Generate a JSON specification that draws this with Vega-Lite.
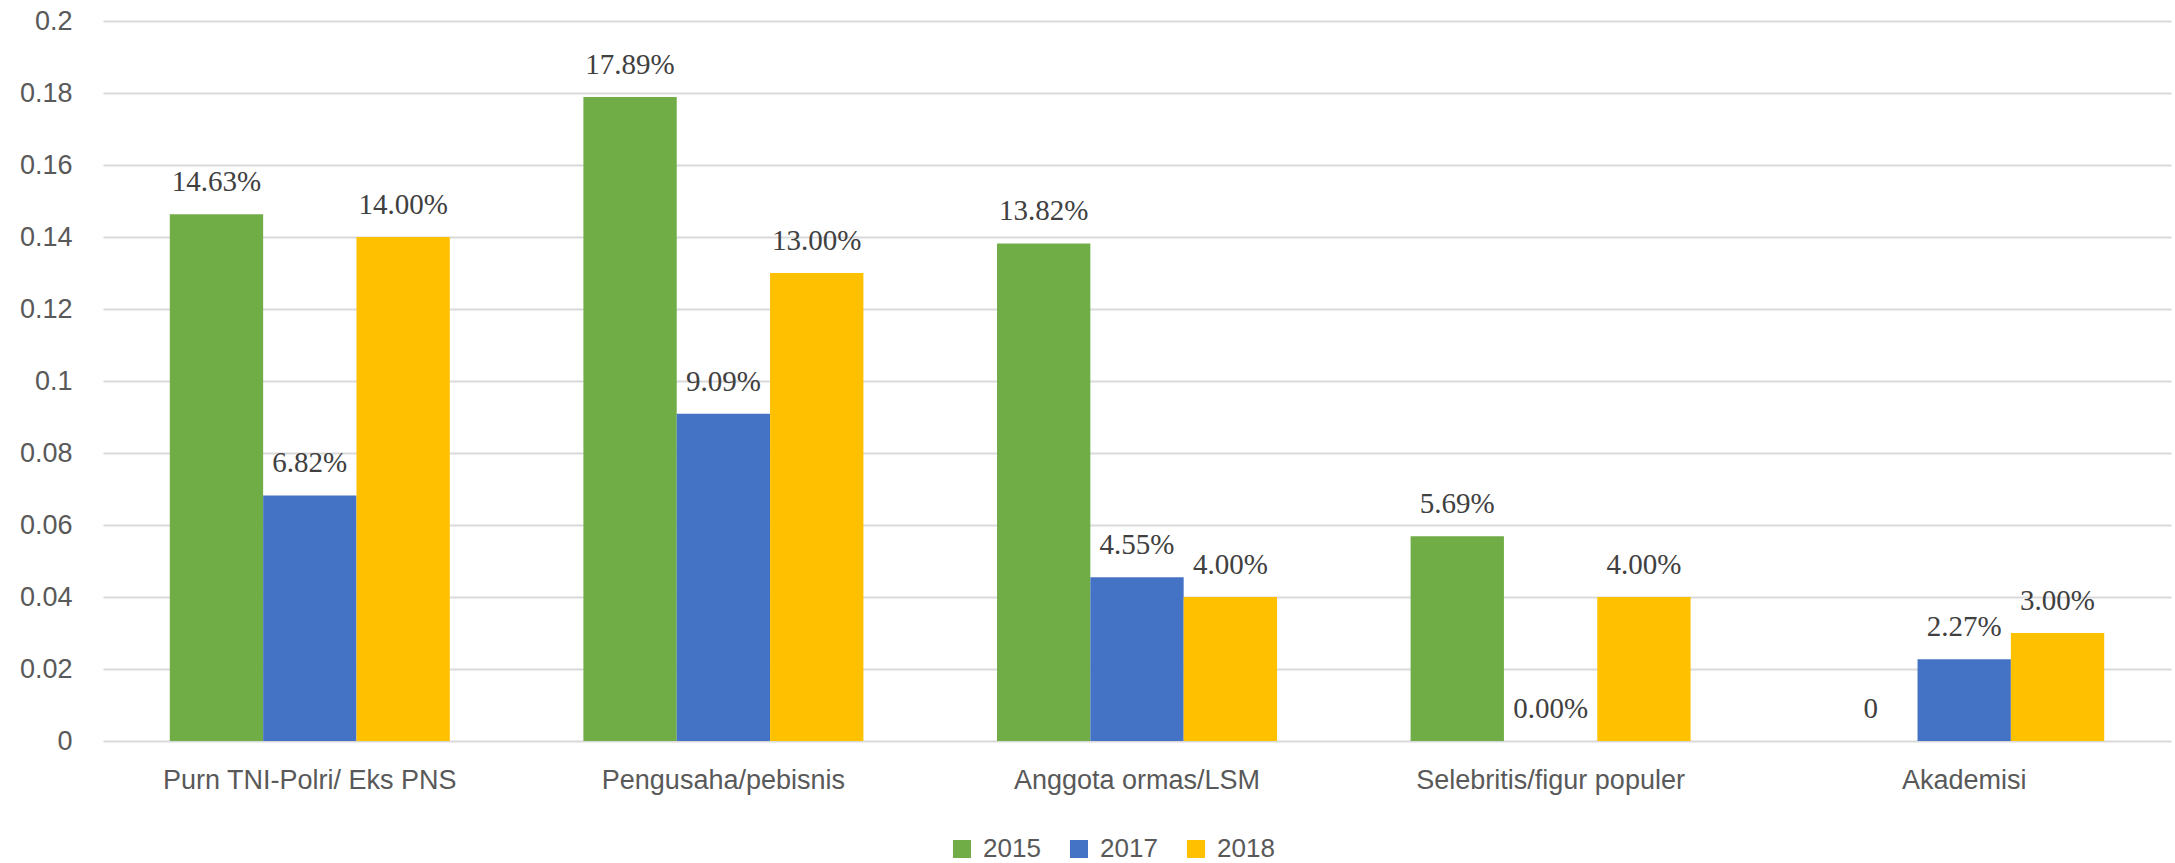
{
  "$schema": "https://vega.github.io/schema/vega-lite/v6.json",
  "width": 2068,
  "height": 720,
  "autosize": {"type": "none"},
  "padding": {"left": 103, "top": 21, "right": 4, "bottom": 122},
  "background": "white",
  "config": {
    "view": {"stroke": null},
    "axis": {"labelFont": "Liberation Sans", "labelColor": "#595959", "labelFontSize": 27},
    "legend": {"labelFont": "Liberation Sans", "labelColor": "#595959", "labelFontSize": 26}
  },
  "data": {
    "values": [
      {"category": "Purn TNI-Polri/ Eks PNS", "year": "2015", "value": 0.1463, "label": "14.63%"},
      {"category": "Purn TNI-Polri/ Eks PNS", "year": "2017", "value": 0.0682, "label": "6.82%"},
      {"category": "Purn TNI-Polri/ Eks PNS", "year": "2018", "value": 0.14, "label": "14.00%"},
      {"category": "Pengusaha/pebisnis", "year": "2015", "value": 0.1789, "label": "17.89%"},
      {"category": "Pengusaha/pebisnis", "year": "2017", "value": 0.0909, "label": "9.09%"},
      {"category": "Pengusaha/pebisnis", "year": "2018", "value": 0.13, "label": "13.00%"},
      {"category": "Anggota ormas/LSM", "year": "2015", "value": 0.1382, "label": "13.82%"},
      {"category": "Anggota ormas/LSM", "year": "2017", "value": 0.0455, "label": "4.55%"},
      {"category": "Anggota ormas/LSM", "year": "2018", "value": 0.04, "label": "4.00%"},
      {"category": "Selebritis/figur populer", "year": "2015", "value": 0.0569, "label": "5.69%"},
      {"category": "Selebritis/figur populer", "year": "2017", "value": 0, "label": "0.00%"},
      {"category": "Selebritis/figur populer", "year": "2018", "value": 0.04, "label": "4.00%"},
      {"category": "Akademisi", "year": "2015", "value": 0, "label": "0"},
      {"category": "Akademisi", "year": "2017", "value": 0.0227, "label": "2.27%"},
      {"category": "Akademisi", "year": "2018", "value": 0.03, "label": "3.00%"}
    ]
  },
  "encoding": {
    "x": {
      "field": "category",
      "type": "nominal",
      "sort": ["Purn TNI-Polri/ Eks PNS", "Pengusaha/pebisnis", "Anggota ormas/LSM", "Selebritis/figur populer", "Akademisi"],
      "scale": {"paddingInner": 0.323, "paddingOuter": 0.1615},
      "axis": {"title": null, "labelAngle": 0, "domain": false, "ticks": false, "labelPadding": 26, "labelLimit": 0}
    },
    "xOffset": {"field": "year", "type": "nominal", "scale": {"paddingInner": 0, "paddingOuter": 0}},
    "y": {
      "field": "value",
      "type": "quantitative",
      "scale": {"domain": [0, 0.2], "nice": false},
      "axis": {
        "title": null,
        "values": [0, 0.02, 0.04, 0.06, 0.08, 0.1, 0.12, 0.14, 0.16, 0.18, 0.2],
        "format": "~g",
        "domain": false,
        "ticks": false,
        "labelPadding": 31,
        "gridColor": "#D9D9D9",
        "gridWidth": 2
      }
    }
  },
  "layer": [
    {
      "mark": {"type": "bar"},
      "encoding": {
        "color": {
          "field": "year",
          "type": "nominal",
          "scale": {"domain": ["2015", "2017", "2018"], "range": ["#70AD47", "#4472C4", "#FFC000"]},
          "legend": {
            "title": null,
            "orient": "none",
            "legendX": 846,
            "legendY": 815,
            "direction": "horizontal",
            "symbolType": "square",
            "symbolSize": 324,
            "symbolStrokeWidth": 0,
            "labelOffset": 8,
            "columnPadding": 25,
            "padding": 0
          }
        }
      }
    },
    {
      "mark": {"type": "text", "font": "Liberation Serif", "fontSize": 29, "color": "#404040", "baseline": "alphabetic", "dy": -23},
      "encoding": {
        "text": {"field": "label", "type": "nominal"}
      }
    }
  ]
}
